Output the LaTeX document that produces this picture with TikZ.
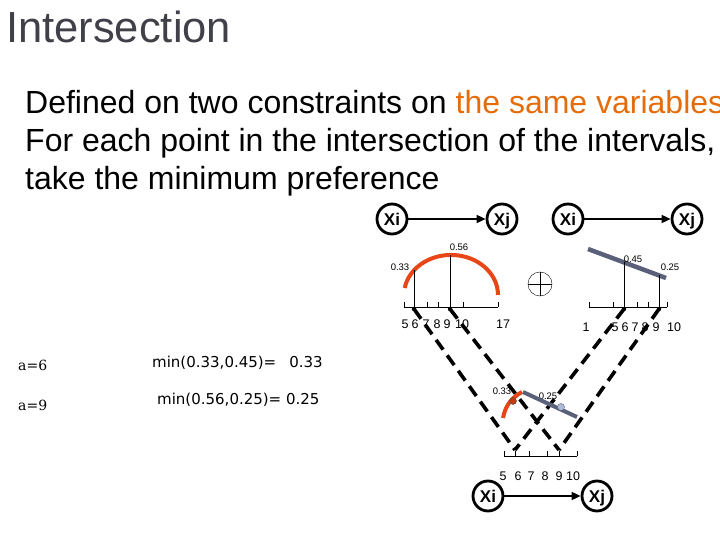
\documentclass[tikz,border=0pt]{standalone}
\usepackage{fontspec}
\setmainfont{Liberation Sans}
\newfontfamily\minfont{DejaVu Sans}
\newfontfamily\afont{DejaVu Serif}
\usepackage{xcolor}
\usetikzlibrary{arrows.meta, positioning, calc}

\definecolor{titlegray}{RGB}{64,64,72}
\definecolor{hiorange}{RGB}{228,108,10}
\definecolor{arcred}{RGB}{232,70,22}
\definecolor{slate}{RGB}{90,96,122}
\definecolor{dotblue}{RGB}{174,187,214}

\begin{document}
\begin{tikzpicture}[
    x=1pt, y=1pt,
    var_node/.style={
        circle,
        draw=black,
        line width=2.8pt,
        minimum size=30pt,
        inner sep=0pt,
        text height=12.2pt,
        text depth=0pt,
        font=\fontsize{17}{17}\selectfont\bfseries
    },
    link/.style={-{Triangle[length=9pt,width=8pt]}, line width=1.8pt},
    axis_line/.style={line width=1pt},
    tick_lbl/.style={font=\fontsize{12.5}{13}\selectfont, anchor=base, inner sep=0pt},
    val_lbl/.style={font=\fontsize{9.5}{10}\selectfont, anchor=base, inner sep=0pt},
    proj/.style={line width=3.6pt, dash pattern=on 12pt off 7pt},
    red_arc/.style={draw=arcred, line width=4pt},
    slate_bar/.style={draw=slate, line width=4.5pt},
    body_text/.style={anchor=base west, inner sep=0pt, font=\fontsize{32}{38}\selectfont}
]
    \useasboundingbox (0,0) rectangle (720,-540);

    % Title and text
    \node[anchor=base west, inner sep=0pt, text=titlegray,
          font=\fontsize{43.5}{44}\selectfont] (title) at (6,-43) {Intersection};
    \node[body_text] (line1) at (25,-114) {Defined on two constraints on \textcolor{hiorange}{the same variables}};
    \node[body_text] (line2) at (25,-152) {For each point in the intersection of the intervals,};
    \node[body_text] (line3) at (25,-190) {take the minimum preference};

    % Constraint graphs
    \node[var_node] (xi_a) at (392,-219) {Xi};
    \node[var_node] (xj_a) at (502,-219) {Xj};
    \node[var_node] (xi_b) at (568,-219) {Xi};
    \node[var_node] (xj_b) at (687,-219) {Xj};
    \node[var_node] (xi_c) at (488,-496) {Xi};
    \node[var_node] (xj_c) at (597,-496) {Xj};
    \draw[link] (xi_a) -- (xj_a);
    \draw[link] (xi_b) -- (xj_b);
    \draw[link] (xi_c) -- (xj_c);

    % Left preference function
    \draw[axis_line] (404,-307) -- (498,-307);
    \foreach \x in {404,414,427,438,450,463,498}
        \draw[axis_line] (\x,-307) -- (\x,-302);
    \draw[red_arc] (404.7,-288) arc[start angle=170, end angle=0, x radius=47, y radius=40];
    \draw[thin] (414,-307) -- (414,-270.3);
    \draw[thin] (450,-307) -- (450,-255);
    \node[val_lbl] (v033) at (400,-270) {0.33};
    \node[val_lbl] (v056) at (459,-251) {0.56};
    \foreach \x/\t in {405/5,415/6,426/7,437/8,447/9,462/10,503/17}
        \node[tick_lbl] at (\x,-328) {\t};
    \coordinate (l6) at (414,-309);
    \coordinate (l9) at (450,-309);

    % Right preference function
    \draw[axis_line] (589,-307) -- (667,-307);
    \foreach \x in {589,613,624,637,648,659,667}
        \draw[axis_line] (\x,-307) -- (\x,-302);
    \draw[slate_bar] (588,-249) -- (666,-278);
    \draw[thin] (624,-307) -- (624,-262.4);
    \draw[thin] (659,-307) -- (659,-275.4);
    \node[val_lbl] (v045) at (633,-262) {0.45};
    \node[val_lbl] (v025) at (670,-270) {0.25};
    \foreach \x/\t in {586/1,615/5,625/6,635/7,645/8,656/9,674/10}
        \node[tick_lbl] at (\x,-331) {\t};
    \coordinate (r6) at (624,-309);
    \coordinate (r9) at (659,-309);

    % Combination symbol
    \node[circle, draw, thin, minimum size=24pt, inner sep=0pt] (oplus) at (540,-284) {};
    \draw[thin] (oplus.north) -- (oplus.south);
    \draw[thin] (oplus.west) -- (oplus.east);

    % Result on the intersection
    \draw[axis_line] (504,-456) -- (577,-456);
    \foreach \x in {504,515,529,547,559,577}
        \draw[axis_line] (\x,-456) -- (\x,-451);
    \foreach \x/\t in {503/5,518/6,531/7,545/8,559/9,573/10}
        \node[tick_lbl] at (\x,-480) {\t};
    \coordinate (b6) at (515,-450);
    \coordinate (b9) at (559,-450);
    \node[val_lbl] (r033) at (502,-394.5) {0.33};
    \node[val_lbl] (r025) at (548,-399.5) {0.25};

    \draw[proj] (l6) -- (b6);
    \draw[proj] (r6) -- (b6);
    \draw[proj] (l9) -- (b9);
    \draw[proj] (r9) -- (b9);

    \draw[red_arc] (503,-418) to[bend left=25] (522,-392);
    \draw[slate_bar, line width=4pt] (523,-392) -- (577,-417);
    \filldraw[fill=arcred!85!black, draw=black!70, thin] (513,-401) circle (3.5);
    \filldraw[fill=dotblue, draw=slate, thin] (561,-407) circle (3.5);

    % Dots on the axes
    \foreach \p in {l6,l9,r6,r9}
        \fill (\p) circle (2.2);

    % Minimum of the two preferences
    \node[anchor=base west, inner sep=0pt, font=\afont\fontsize{14}{14}\selectfont] (a6) at (18,-370) {a=6};
    \node[anchor=base west, inner sep=0pt, font=\afont\fontsize{14}{14}\selectfont] (a9) at (18,-410) {a=9};
    \node[anchor=base west, inner sep=0pt, font=\minfont\fontsize{15}{15}\selectfont] (m6) at (152,-367) {min(0.33,0.45)=\hspace{13pt}0.33};
    \node[anchor=base west, inner sep=0pt, font=\minfont\fontsize{15}{15}\selectfont] (m9) at (157,-404) {min(0.56,0.25)= 0.25};

\end{tikzpicture}
\end{document}
